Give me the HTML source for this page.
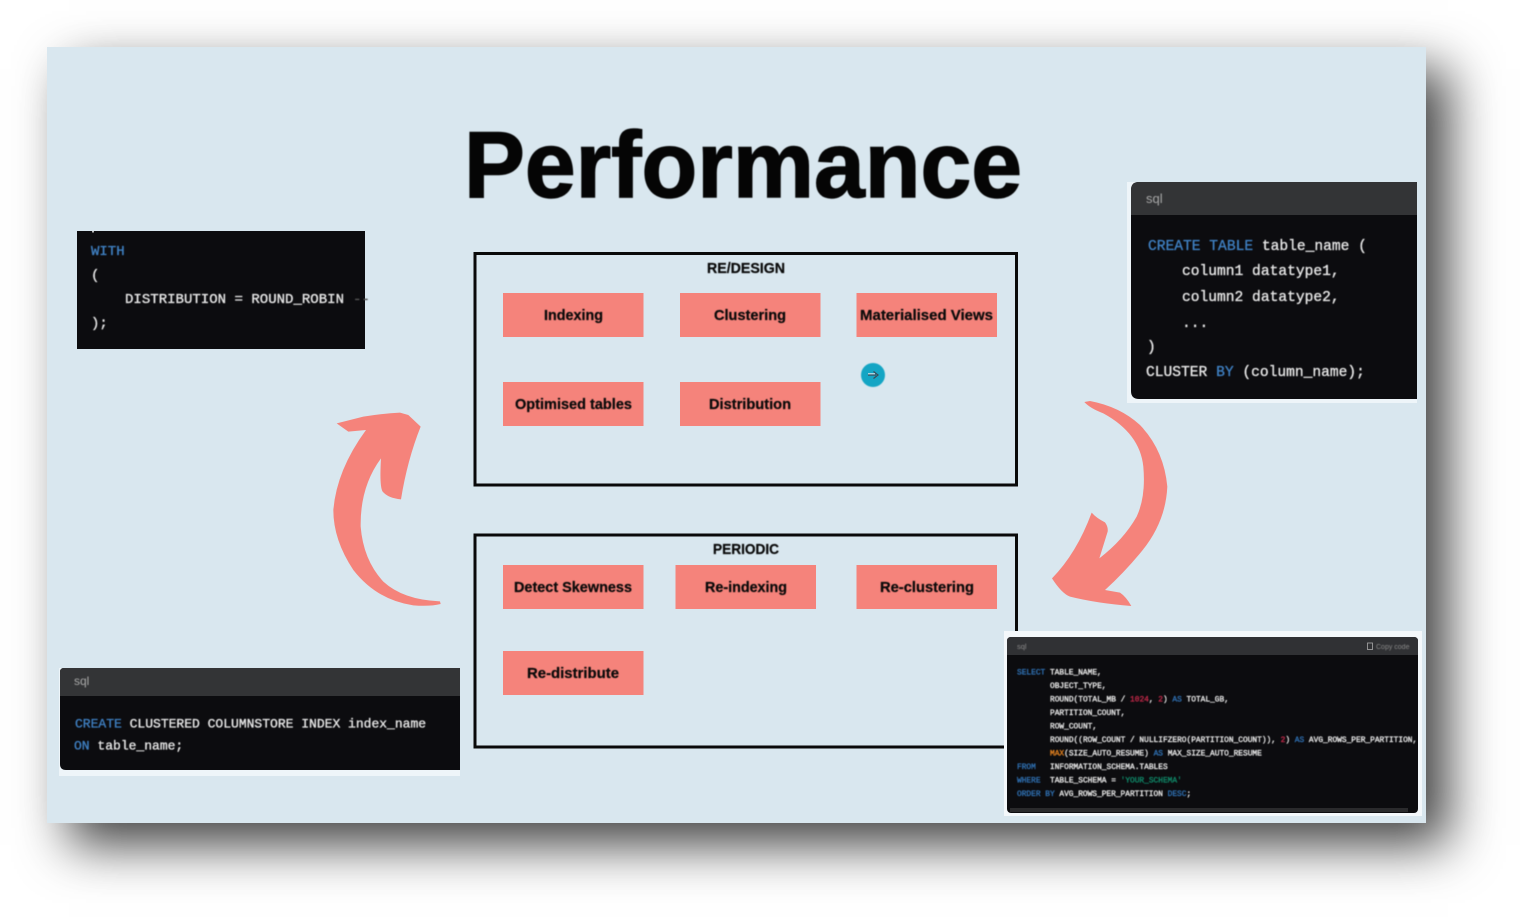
<!DOCTYPE html>
<html><head><meta charset="utf-8"><style>
html,body{margin:0;padding:0;background:#fff;width:1521px;height:918px;overflow:hidden}
#s{position:absolute;left:47px;top:47px;width:1379px;height:776px;background:#d9e7ef;box-shadow:22px 22px 48px rgba(0,0,0,.74)}
svg{position:absolute;left:0;top:0}
text{font-family:"Liberation Sans",sans-serif}
.b{font-weight:700;font-size:15px;fill:#0a0a0a;stroke:#0a0a0a;stroke-width:.25px}
.m text{font-family:"Liberation Mono",monospace;fill:#e6e6e6;stroke:#e6e6e6;stroke-width:.35px;font-weight:400}
.soft{filter:blur(.5px)}
</style></head><body>
<div id="s"></div>
<svg width="1521" height="918" viewBox="0 0 1521 918" xmlns="http://www.w3.org/2000/svg">
<text x="464" y="197" font-size="94" font-weight="700" fill="#050505" stroke="#050505" stroke-width="1.400" textLength="558" lengthAdjust="spacingAndGlyphs" class="soft">Performance</text>

<rect x="475" y="253.500" width="541.500" height="231.500" fill="none" stroke="#0a0a0a" stroke-width="3"/>
<rect x="475" y="535" width="541.500" height="212" fill="none" stroke="#0a0a0a" stroke-width="3"/>

<g fill="#f5837b">
<rect x="503" y="293" width="140.500" height="44"/><rect x="680" y="293" width="140.500" height="44"/><rect x="856.500" y="293" width="140.500" height="44"/>
<rect x="503" y="382" width="140.500" height="44"/><rect x="680" y="382" width="140.500" height="44"/>
<rect x="503" y="565" width="140.500" height="44"/><rect x="675.500" y="565" width="140.500" height="44"/><rect x="856.500" y="565" width="140.500" height="44"/>
<rect x="503" y="651" width="140.500" height="44"/>
</g>
<g class="soft">
<text class="b" x="707" y="273" textLength="78" lengthAdjust="spacingAndGlyphs">RE/DESIGN</text>
<text class="b" x="713" y="554" textLength="66" lengthAdjust="spacingAndGlyphs">PERIODIC</text>
<text class="b" x="544" y="320" textLength="59" lengthAdjust="spacingAndGlyphs">Indexing</text>
<text class="b" x="714" y="320" textLength="72" lengthAdjust="spacingAndGlyphs">Clustering</text>
<text class="b" x="860" y="320" textLength="133" lengthAdjust="spacingAndGlyphs">Materialised Views</text>
<text class="b" x="515" y="409" textLength="117" lengthAdjust="spacingAndGlyphs">Optimised tables</text>
<text class="b" x="709" y="409" textLength="82" lengthAdjust="spacingAndGlyphs">Distribution</text>
<text class="b" x="514" y="592" textLength="118" lengthAdjust="spacingAndGlyphs">Detect Skewness</text>
<text class="b" x="705" y="592" textLength="82" lengthAdjust="spacingAndGlyphs">Re-indexing</text>
<text class="b" x="880" y="592" textLength="94" lengthAdjust="spacingAndGlyphs">Re-clustering</text>
<text class="b" x="527" y="678" textLength="92" lengthAdjust="spacingAndGlyphs">Re-distribute</text>
</g>

<circle cx="873" cy="375" r="12" fill="#14a5c4" class="soft"/>
<path d="M868 375H876M873.500 371.500L878 375L873.500 378.500" fill="none" stroke="#3c4a58" stroke-width="1.200"/>
<path d="M868 373.800H875" fill="none" stroke="#e4ecf0" stroke-width="1"/>

<!-- left arrow -->
<g transform="translate(320,400) scale(.3333)" fill="#f5837b" class="soft">
<path d="M50 70 L130 50 Q190 40 240 38 L265 45 L302 80 Q262 180 243 298 Q205 295 188 275 Q178 260 183 175 Q120 260 122 380 Q130 480 190 545 Q250 600 360 604 L362 612 Q330 620 280 616 Q170 600 100 510 Q40 420 40 330 Q50 210 138 90 L85 95 Z"/>
</g>
<!-- right arrow -->
<g transform="translate(1040,390) scale(.3333)" fill="#f5837b" class="soft">
<path d="M133 36 L150 33 Q240 50 300 105 Q372 180 382 290 Q377 400 300 490 Q250 550 195 600 L240 608 Q258 620 274 648 Q170 640 90 620 Q65 610 36 565 Q110 490 155 368 Q170 385 195 397 Q205 410 203 425 L178 505 Q250 450 290 380 Q318 320 310 230 Q300 130 190 70 Q150 55 133 36 Z"/>
</g>

<!-- top-left code -->
<rect x="77" y="231" width="288" height="118" fill="#0c0c0f"/>
<g class="m soft" font-size="14">
<text x="91" y="255" style="fill:#3f7fc0;stroke:#3f7fc0">WITH</text>
<text x="91" y="279">(</text>
<text x="125" y="303" textLength="219" lengthAdjust="spacingAndGlyphs">DISTRIBUTION = ROUND_ROBIN</text>
<text x="91" y="327">);</text>
<text x="353" y="303" style="fill:#555;stroke:#555">--</text>
</g>
<rect x="92" y="231" width="2" height="1.500" fill="#bbb"/>

<!-- top-right code -->
<path d="M1127 182H1417V403H1127Z" fill="#eef5f9"/>
<path d="M1131 190Q1131 182 1139 182H1417V399H1139Q1131 399 1131 391Z" fill="#0c0c0f"/>
<path d="M1131 190Q1131 182 1139 182H1417V215H1131Z" fill="#333436"/>
<text x="1146" y="203" font-size="13" fill="#a8a8a8" class="soft">sql</text>
<g class="m soft" font-size="14.600">
<text x="1148" y="250"><tspan style="fill:#3f7fc0;stroke:#3f7fc0">CREATE TABLE</tspan> table_name (</text>
<text x="1182" y="275">column1 datatype1,</text>
<text x="1182" y="301">column2 datatype2,</text>
<text x="1182" y="327">...</text>
<text x="1147" y="351">)</text>
<text x="1146" y="376">CLUSTER <tspan style="fill:#3f7fc0;stroke:#3f7fc0">BY</tspan> (column_name);</text>
</g>

<!-- bottom-left code -->
<rect x="59" y="668" width="401" height="108" fill="#eef5f9"/>
<path d="M60 672Q60 668 64 668H460V770H66Q60 770 60 764Z" fill="#0c0c0f"/>
<path d="M60 672Q60 668 64 668H460V696H60Z" fill="#333436"/>
<text x="74" y="685" font-size="12" fill="#a8a8a8" class="soft">sql</text>
<g class="m soft" font-size="13">
<text x="75" y="727.500"><tspan style="fill:#3f7fc0;stroke:#3f7fc0">CREATE</tspan> CLUSTERED COLUMNSTORE INDEX index_name</text>
<text x="74" y="749.500"><tspan style="fill:#3f7fc0;stroke:#3f7fc0">ON</tspan> table_name;</text>
</g>

<!-- bottom-right code -->
<rect x="1004" y="631" width="418" height="185" fill="#f4f8fb"/>
<rect x="1007" y="637" width="411" height="176" rx="4" fill="#0c0c0f"/>
<path d="M1007 641Q1007 637 1011 637H1414Q1418 637 1418 641V655H1007Z" fill="#303134"/>
<rect x="1010" y="808" width="398" height="4" fill="#2a2a2c"/>
<text x="1017" y="649" font-size="7.500" fill="#888" class="soft">sql</text>
<rect x="1367.500" y="643" width="5" height="6.500" fill="none" stroke="#aaa" stroke-width=".8"/>
<text x="1376" y="649" font-size="7" fill="#888" class="soft">Copy code</text>
<g class="m" font-size="7.850" style="filter:blur(.4px)">
<text x="1017" y="674.500"><tspan style="fill:#2f6fb0;stroke:#2f6fb0">SELECT</tspan> TABLE_NAME,</text>
<text x="1050" y="688">OBJECT_TYPE,</text>
<text x="1050" y="701.500">ROUND(TOTAL_MB / <tspan style="fill:#c02848;stroke:#c02848">1024</tspan>, <tspan style="fill:#c02848;stroke:#c02848">2</tspan>) <tspan style="fill:#2f6fb0;stroke:#2f6fb0">AS</tspan> TOTAL_GB,</text>
<text x="1050" y="715">PARTITION_COUNT,</text>
<text x="1050" y="728.500">ROW_COUNT,</text>
<text x="1050" y="742">ROUND((ROW_COUNT / NULLIFZERO(PARTITION_COUNT)), <tspan style="fill:#c02848;stroke:#c02848">2</tspan>) <tspan style="fill:#2f6fb0;stroke:#2f6fb0">AS</tspan> AVG_ROWS_PER_PARTITION,</text>
<text x="1050" y="755.500"><tspan style="fill:#e08020;stroke:#e08020">MAX</tspan>(SIZE_AUTO_RESUME) <tspan style="fill:#2f6fb0;stroke:#2f6fb0">AS</tspan> MAX_SIZE_AUTO_RESUME</text>
<text x="1017" y="769"><tspan style="fill:#2f6fb0;stroke:#2f6fb0">FROM</tspan></text>
<text x="1050" y="769">INFORMATION_SCHEMA.TABLES</text>
<text x="1017" y="782.500"><tspan style="fill:#2f6fb0;stroke:#2f6fb0">WHERE</tspan></text>
<text x="1050" y="782.500">TABLE_SCHEMA = <tspan style="fill:#108868;stroke:#108868">'YOUR_SCHEMA'</tspan></text>
<text x="1017" y="796"><tspan style="fill:#2f6fb0;stroke:#2f6fb0">ORDER BY</tspan> AVG_ROWS_PER_PARTITION <tspan style="fill:#2f6fb0;stroke:#2f6fb0">DESC</tspan>;</text>
</g>
</svg>
</body></html>
